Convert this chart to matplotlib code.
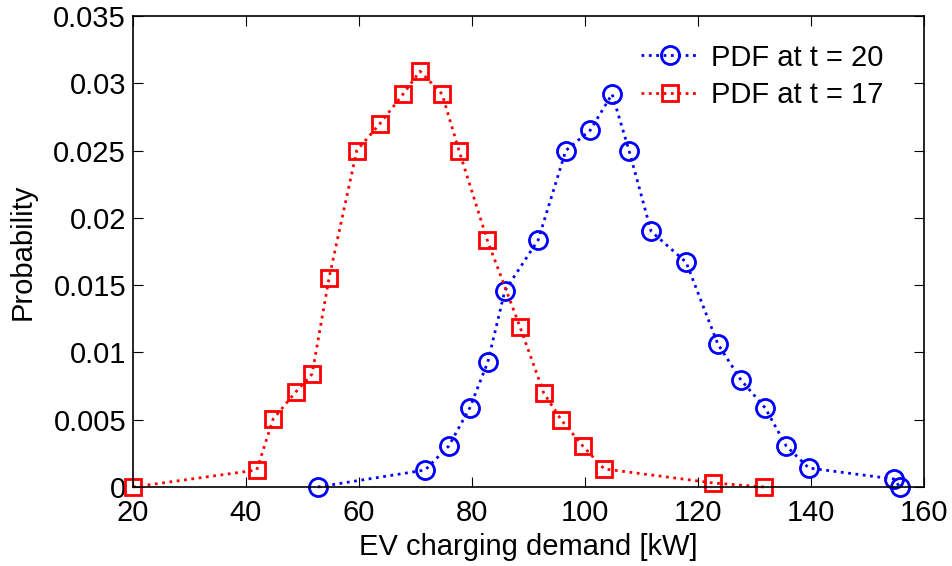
import numpy as np
import matplotlib.pyplot as plt

plt.rcParams['font.family'] = ['Liberation Sans', 'DejaVu Sans']

# PDF at t = 20 (blue circles)
x_t20 = [52.7, 71.7, 75.9, 79.6, 82.8, 85.8, 91.7, 96.6, 100.9, 104.8,
         107.8, 111.7, 117.9, 123.5, 127.6, 131.9, 135.6, 139.6, 154.7, 155.7]
p_t20 = [0.0, 0.00126, 0.00305, 0.00587, 0.00929, 0.01457, 0.01835, 0.0250, 0.0265, 0.0292,
         0.0250, 0.0190, 0.0167, 0.01063, 0.00795, 0.00587, 0.00305, 0.00141, 0.00059, 0.0]

# PDF at t = 17 (red squares)
x_t17 = [20.0, 41.9, 44.8, 48.8, 51.7, 54.7, 59.6, 63.7, 67.8, 70.8,
         74.7, 77.7, 82.7, 88.5, 92.7, 95.8, 99.6, 103.4, 122.7, 131.7]
p_t17 = [0.0, 0.00126, 0.00505, 0.00706, 0.0084, 0.01553, 0.0250, 0.0270, 0.0292, 0.0309,
         0.0292, 0.0250, 0.01835, 0.01189, 0.00698, 0.00498, 0.00305, 0.00134, 0.0003, 0.0]

xticks = [20, 40, 60, 80, 100, 120, 140, 160]
yticks = [0, 0.005, 0.01, 0.015, 0.02, 0.025, 0.03, 0.035]
ytick_labels = ["0", "0.005", "0.01", "0.015", "0.02", "0.025", "0.03", "0.035"]

FS = 21

fig = plt.figure(figsize=(9.52, 5.66), dpi=100)
ax = fig.add_axes([0.1397, 0.1396, 0.8309, 0.8321])

ax.plot(x_t20, p_t20, ':', color='blue', lw=2, marker='o', ms=13,
        mfc='none', mec='blue', mew=2, label='PDF at t = 20', clip_on=False)
ax.plot(x_t17, p_t17, ':', color='red', lw=2, marker='s', ms=11,
        mfc='none', mec='red', mew=2, label='PDF at t = 17', clip_on=False)

ax.set_xlim(20, 160)
ax.set_ylim(0, 0.035)
ax.set_xticks(xticks)
ax.set_yticks(yticks)
ax.set_yticklabels(ytick_labels)
ax.tick_params(direction='in', length=7, width=0.8, labelsize=FS, top=True, right=True)
ax.tick_params(axis='x', pad=9)
ax.tick_params(axis='y', pad=5)
for s in ax.spines.values():
    s.set_linewidth(1.2)

ax.set_xlabel('EV charging demand [kW]', fontsize=FS, labelpad=4)
ax.set_ylabel('Probability', fontsize=FS, labelpad=12)

ax.legend(loc='upper right', bbox_to_anchor=(0.963, 0.966), frameon=False, fontsize=FS,
          handlelength=2.0, handletextpad=0.4, borderaxespad=0, labelspacing=0.33)

fig.savefig('out.png', dpi=100)
